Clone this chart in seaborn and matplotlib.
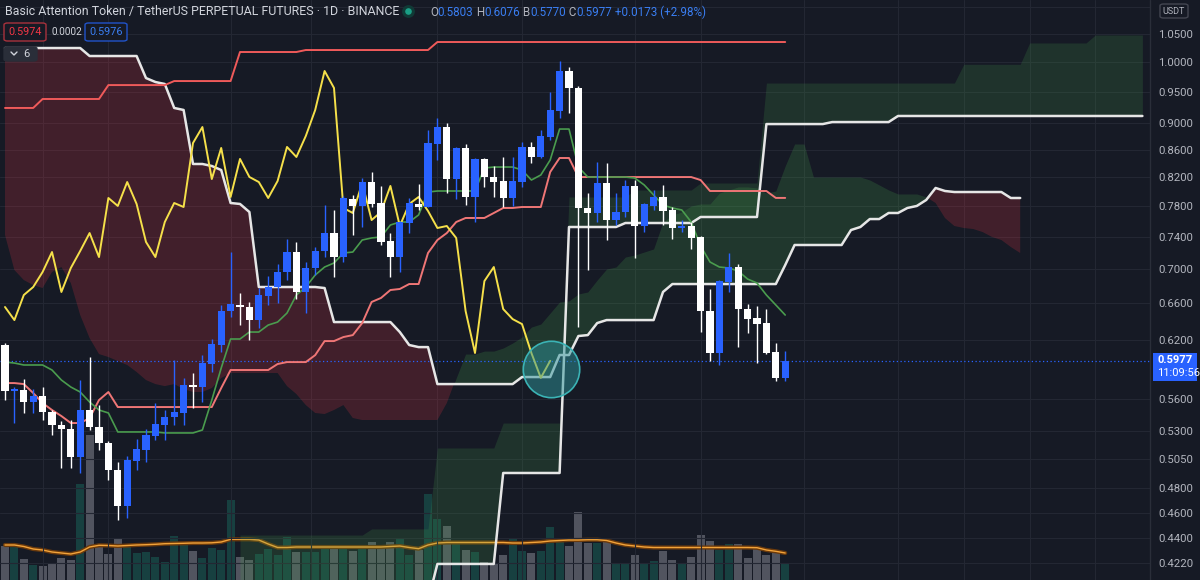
import numpy as np
import pandas as pd
import matplotlib
matplotlib.use("Agg")
import matplotlib.pyplot as plt
import seaborn as sns
from matplotlib.lines import Line2D
from matplotlib.patches import FancyBboxPatch, Rectangle
from matplotlib.ticker import NullLocator

# ---- daily candles (BATUSDT perp, 1D) ----
opens = [0.6142, 0.5673, 0.5683, 0.5567, 0.5625, 0.5472, 0.5351, 0.5314, 0.5063, 0.5491,
         0.5333, 0.5187, 0.4951, 0.4653, 0.5028, 0.5125, 0.5250, 0.5351, 0.5425, 0.5463,
         0.5723, 0.5713, 0.5944, 0.6142, 0.6513, 0.6581, 0.6558, 0.6412, 0.6684, 0.6788,
         0.6966, 0.7210, 0.6730, 0.7014, 0.7223, 0.7450, 0.7148, 0.7900, 0.7806, 0.8135,
         0.7846, 0.7348, 0.7148, 0.7580, 0.7833, 0.7792, 0.8686, 0.8944, 0.8177, 0.8627,
         0.7928, 0.8465, 0.8206, 0.8149, 0.7914, 0.8135, 0.8642, 0.8494, 0.8792, 0.9195,
         0.9851, 0.9567, 0.7779, 0.7712, 0.8121, 0.7619, 0.7725, 0.8080, 0.7541, 0.7806,
         0.7928, 0.7752, 0.7515, 0.7541, 0.7400, 0.6513, 0.6058, 0.6847, 0.7026, 0.6535,
         0.6434, 0.6379, 0.6068, 0.5803]
highs = [0.6163, 0.5713, 0.5792, 0.5693, 0.5713, 0.5491, 0.5388, 0.5397, 0.5782, 0.6016,
         0.5538, 0.5205, 0.5020, 0.5072, 0.5223, 0.5314, 0.5558, 0.5491, 0.5985, 0.5802,
         0.5853, 0.6037, 0.6206, 0.6581, 0.7210, 0.6718, 0.6615, 0.6776, 0.6918, 0.7063,
         0.7374, 0.7336, 0.7087, 0.7273, 0.7819, 0.7752, 0.7941, 0.7955, 0.8191, 0.8276,
         0.8080, 0.7450, 0.7606, 0.7914, 0.8107, 0.8898, 0.9085, 0.9006, 0.8641, 0.8686,
         0.8479, 0.8479, 0.8363, 0.8494, 0.8494, 0.8716, 0.8716, 0.8898, 0.9501, 1.0023,
         0.9919, 0.9600, 0.7982, 0.8421, 0.8406, 0.7982, 0.8163, 0.8163, 0.7846, 0.8024,
         0.8094, 0.7792, 0.7619, 0.7593, 0.7412, 0.6765, 0.6870, 0.7198, 0.7063, 0.6592,
         0.6569, 0.6535, 0.6163, 0.6076]
lows = [0.5586, 0.5369, 0.5463, 0.5463, 0.5397, 0.5260, 0.4968, 0.4968, 0.4926, 0.5305,
        0.5125, 0.4867, 0.4542, 0.4558, 0.4951, 0.5020, 0.5214, 0.5214, 0.5351, 0.5351,
        0.5510, 0.5567, 0.5863, 0.6068, 0.6446, 0.6358, 0.6195, 0.6325, 0.6581, 0.6604,
        0.6870, 0.6650, 0.6490, 0.6930, 0.7148, 0.6906, 0.7087, 0.7425, 0.7528, 0.7792,
        0.7298, 0.6906, 0.6966, 0.7450, 0.7752, 0.7792, 0.8450, 0.7982, 0.7900, 0.7819,
        0.7593, 0.8066, 0.7928, 0.7792, 0.7806, 0.8066, 0.8406, 0.8479, 0.8746, 0.9085,
        0.9163, 0.6336, 0.6990, 0.7593, 0.7361, 0.7554, 0.7659, 0.7136, 0.7463, 0.7752,
        0.7554, 0.7374, 0.7463, 0.7248, 0.6281, 0.5975, 0.5934, 0.6730, 0.6121, 0.6271,
        0.5954, 0.6048, 0.5772, 0.5770]
closes = [0.5673, 0.5693, 0.5567, 0.5625, 0.5472, 0.5351, 0.5314, 0.5063, 0.5491, 0.5333,
          0.5187, 0.4951, 0.4653, 0.5037, 0.5134, 0.5260, 0.5360, 0.5425, 0.5472, 0.5732,
          0.5713, 0.5954, 0.6152, 0.6513, 0.6592, 0.6558, 0.6412, 0.6695, 0.6788, 0.6966,
          0.7210, 0.6730, 0.7014, 0.7223, 0.7450, 0.7148, 0.7914, 0.7806, 0.8135, 0.7833,
          0.7336, 0.7148, 0.7593, 0.7846, 0.7792, 0.8701, 0.8944, 0.8177, 0.8627, 0.7928,
          0.8465, 0.8206, 0.8135, 0.7914, 0.8149, 0.8642, 0.8494, 0.8807, 0.9211, 0.9851,
          0.9567, 0.7779, 0.7712, 0.8121, 0.7619, 0.7725, 0.8080, 0.7541, 0.7833, 0.7928,
          0.7739, 0.7515, 0.7541, 0.7387, 0.6513, 0.6058, 0.6858, 0.7026, 0.6535, 0.6423,
          0.6368, 0.6058, 0.5804, 0.5977]
volumes = [34, 33, 21, 15, 14, 17, 22, 20, 96, 145, 36, 26, 42, 33, 27, 28, 23, 18, 44, 36,
           29, 22, 32, 30, 80, 23, 20, 26, 31, 25, 43, 28, 28, 28, 31, 35, 31, 29, 31, 38,
           34, 38, 41, 25, 30, 86, 61, 54, 37, 30, 28, 18, 17, 25, 41, 29, 27, 29, 53, 42,
           34, 68, 37, 37, 38, 17, 17, 25, 16, 19, 29, 20, 16, 23, 45, 39, 30, 36, 36, 22,
           33, 25, 27, 16]
volume_ma = [35, 35, 33.5, 31, 30, 28, 27, 26, 28, 33, 34.7, 34.5, 34, 34.5, 35, 35.3, 35.7,
             36.3, 36.5, 36.7, 37, 37, 37.2, 38, 40.7, 40.7, 40.7, 40, 36, 32.5, 32.5,
             33, 33, 33, 33, 33, 33, 33, 33, 33, 33, 33.5, 34, 32.5, 31.3, 35, 37,
             37.5, 37.5, 37.5, 37.5, 37.5, 37.5, 37.5, 37, 37, 37.5, 38, 39, 39.5, 40, 40,
             40.3, 40.3, 39.5, 37, 35, 34, 33, 32.5, 32.5, 32.5, 32.5, 32.5, 32.5, 32.5,
             32.5, 32.5, 32.5, 32.5, 32.3, 30, 28.7, 27]

# ---- ichimoku lines (conversion / base / leading spans, shift 25) ----
tenkan = [0.5964, 0.5954, 0.5934, 0.5934, 0.5934, 0.5883, 0.5782, 0.5713, 0.5664, 0.5567,
          0.5491, 0.5463, 0.5287, 0.5287, 0.5287, 0.5287, 0.5287, 0.5278, 0.5278, 0.5278,
          0.5278, 0.5305, 0.5586, 0.5903, 0.6206, 0.6206, 0.6281, 0.6281, 0.6357, 0.6390,
          0.6490, 0.6695, 0.6788, 0.6930, 0.7026, 0.7075, 0.7198, 0.7210, 0.7361, 0.7387,
          0.7400, 0.7554, 0.7593, 0.7593, 0.7686, 0.7996, 0.8010, 0.8010, 0.8010, 0.8010,
          0.8010, 0.8334, 0.8348, 0.8348, 0.8348, 0.8305, 0.8163, 0.8234, 0.8450, 0.8913,
          0.8913, 0.8348, 0.8205, 0.8205, 0.8205, 0.8205, 0.8205, 0.8191, 0.8094, 0.7956,
          0.7819, 0.7779, 0.7752, 0.7593, 0.7286, 0.7087, 0.7026, 0.7014, 0.6978, 0.6882,
          0.6835, 0.6695, 0.6581, 0.6468]
kijun = [0.5752, 0.5752, 0.5742, 0.5654, 0.5557, 0.5491, 0.5434, 0.5369, 0.5369, 0.5415,
         0.5586, 0.5664, 0.5519, 0.5519, 0.5519, 0.5519, 0.5519, 0.5519, 0.5519, 0.5519,
         0.5519, 0.5519, 0.5519, 0.5703, 0.5883, 0.5883, 0.5883, 0.5883, 0.5883, 0.5944,
         0.5964, 0.5964, 0.5964, 0.6036, 0.6184, 0.6184, 0.6227, 0.6248, 0.6379, 0.6615,
         0.6661, 0.6753, 0.6765, 0.6823, 0.6823, 0.7198, 0.7361, 0.7450, 0.7593, 0.7646,
         0.7646, 0.7646, 0.7712, 0.7779, 0.7779, 0.7792, 0.7792, 0.7792, 0.8277, 0.8479,
         0.8479, 0.8205, 0.8205, 0.8205, 0.8205, 0.8205, 0.8205, 0.8205, 0.8205, 0.8205,
         0.8205, 0.8205, 0.8205, 0.8205, 0.8163, 0.8010, 0.8010, 0.8010, 0.8010, 0.8010,
         0.8010, 0.8010, 0.7915, 0.7915]
span_a = [0.7425, 0.6990, 0.6870, 0.6811, 0.6776, 0.6966, 0.7026, 0.6835, 0.6468, 0.6216,
          0.6047, 0.6016, 0.5975, 0.5934, 0.5863, 0.5782, 0.5742, 0.5722, 0.5742, 0.5693,
          0.5664, 0.5664, 0.5703, 0.5802, 0.5853, 0.5853, 0.5853, 0.5853, 0.5853, 0.5853,
          0.5722, 0.5644, 0.5538, 0.5463, 0.5453, 0.5491, 0.5538, 0.5416, 0.5397, 0.5397,
          0.5397, 0.5397, 0.5397, 0.5397, 0.5397, 0.5397, 0.5397, 0.5557, 0.5802, 0.6047,
          0.6047, 0.6078, 0.6078, 0.6110, 0.6163, 0.6227, 0.6335, 0.6368, 0.6490, 0.6615,
          0.6627, 0.6707, 0.6730, 0.6870, 0.7002, 0.7026, 0.7148, 0.7173, 0.7210, 0.7248,
          0.7593, 0.7686, 0.7725, 0.7806, 0.7833, 0.7833, 0.7982, 0.8024, 0.8066, 0.8066,
          0.8052, 0.7982, 0.8010, 0.8363, 0.8686, 0.8686, 0.8205, 0.8205, 0.8205, 0.8205,
          0.8205, 0.8205, 0.8163, 0.8094, 0.8024, 0.7969, 0.7969, 0.7969, 0.7928, 0.7846,
          0.7645, 0.7541, 0.7515, 0.7502, 0.7463, 0.7400, 0.7361, 0.7273, 0.7198]
span_b = [1.0249, 1.0249, 1.0249, 1.0249, 1.0249, 1.0249, 1.0249, 1.0249, 1.0249, 1.0109,
          1.0109, 1.0109, 1.0109, 1.0109, 1.0109, 0.9732, 0.9666, 0.9633, 0.9243, 0.9211,
          0.8392, 0.8392, 0.8363, 0.8305, 0.7846, 0.7833, 0.7725, 0.6788, 0.6788, 0.6788,
          0.6788, 0.6788, 0.6788, 0.6788, 0.6776, 0.6390, 0.6390, 0.6390, 0.6390, 0.6390,
          0.6390, 0.6390, 0.6281, 0.6142, 0.6120, 0.6120, 0.5742, 0.5742, 0.5742, 0.5742,
          0.5742, 0.5742, 0.5742, 0.5742, 0.5742, 0.5812, 0.5812, 0.5812, 0.5812, 0.6037,
          0.6037, 0.6238, 0.6248, 0.6379, 0.6412, 0.6412, 0.6412, 0.6412, 0.6412, 0.6412,
          0.6730, 0.6823, 0.6823, 0.6823, 0.6823, 0.6823, 0.6823, 0.6823, 0.6823, 0.6823,
          0.6823, 0.6823, 0.6823, 0.7050, 0.7298, 0.7298, 0.7298, 0.7298, 0.7298, 0.7298,
          0.7489, 0.7528, 0.7632, 0.7632, 0.7712, 0.7712, 0.7779, 0.7806, 0.7887, 0.8052,
          0.8010, 0.7996, 0.7996, 0.7996, 0.7996, 0.7996, 0.7996, 0.7914, 0.7914]
upper_band = ([0.9243] * 4 + [0.9387] * 7 + [0.9615] * 7 + [0.9682] * 7 +
              [1.0179] * 7 + [1.0214] * 14 + [1.0356] * 38)

# second (slow) cloud, starts at bar 25 and runs past the right edge
slow_start = 25
slow_top = ([0.4426] * 14 + [0.4473] * 7 + [0.5143] * 7 + [0.5369] * 7 + [0.7928] * 7 +
            [0.8024] * 7 + [0.8121] * 7 + [0.9649] * 21 + [0.9965] * 7 + [1.0339] * 7 +
            [1.0482] * 6)
slow_base = ([0.395] * 21 + [0.4211] * 7 + [0.4926] * 7 + [0.7528] * 6 + [0.7580] * 8 +
             [0.7659] * 7 + [0.8990] * 7 + [0.9021] * 7 + [0.9116] * 27)

lag = 25
price_ticks = [1.05, 1.00, 0.95, 0.90, 0.86, 0.82, 0.78, 0.74, 0.70, 0.66, 0.62,
               0.56, 0.53, 0.505, 0.48, 0.46, 0.44, 0.422]
grid_bars = [4, 11, 24, 32.5, 46, 55, 67, 74, 85, 95, 102, 109, 116]
last_price = 0.5977
hl_bar, hl_price = 58.1, 0.589   # highlighted circle

# ---- style ----
BG = '#161a25'
UP = '#2962ff'
DOWN = '#ffffff'
sns.set_theme(style='dark', rc={'axes.facecolor': BG, 'figure.facecolor': BG,
                                'savefig.facecolor': BG})
plt.rcParams['font.family'] = ['Roboto', 'DejaVu Sans']

W, H = 1200, 580
fig = plt.figure(figsize=(W / 100, H / 100), dpi=100)
rect = [0, 0, 1150 / W, 1]
ax_vol = fig.add_axes(rect)
ax = fig.add_axes(rect)
ax.patch.set_visible(False)

n = len(closes)
idx = np.arange(n)
o, h, l, c = map(np.array, (opens, highs, lows, closes))
up = c >= o

# volume (behind everything)
vol_df = pd.DataFrame({'bar': idx, 'vol': volumes, 'dir': np.where(up, 'up', 'down')})
sns.barplot(data=vol_df, x='bar', y='vol', hue='dir', palette={'up': '#174040', 'down': '#51545f'},
            native_scale=True, dodge=False, width=0.85, errorbar=None, saturation=1,
            legend=False, linewidth=0, edgecolor='none', ax=ax_vol)
sns.lineplot(x=idx, y=volume_ma, ax=ax_vol, color='#6b3a0c', lw=3.0)
sns.lineplot(x=idx, y=volume_ma, ax=ax_vol, color='#f2a33a', lw=1.0)
ax_vol.set_ylim(0, H)

ax.set_yscale('log')

# clouds
cx = np.arange(len(span_a))
sa, sb = np.array(span_a), np.array(span_b)
ax.fill_between(cx, sa, sb, where=sa >= sb, interpolate=True, color='#4caf50', alpha=0.2, lw=0, zorder=1)
ax.fill_between(cx, sa, sb, where=sa < sb, interpolate=True, color='#f23645', alpha=0.2, lw=0, zorder=1)
sx = np.arange(slow_start, slow_start + len(slow_top))
ax.fill_between(sx, slow_base, slow_top, color='#4caf50', alpha=0.17, lw=0, zorder=1)

# grid
for g in grid_bars:
    ax.axvline(g, color='#232733', lw=0.8, zorder=0)
for t in price_ticks + [1.10]:
    ax.axhline(t, color='#232733', lw=0.8, zorder=0)

# indicator lines
sns.lineplot(x=cx, y=span_b, ax=ax, color='#e6e6e6', lw=1.8, zorder=3)
sns.lineplot(x=sx, y=slow_base, ax=ax, color='#e6e6e6', lw=1.8, zorder=3)
sns.lineplot(x=idx, y=upper_band, ax=ax, color='#ef5a5a', lw=1.4, zorder=3)
sns.lineplot(x=idx, y=kijun, ax=ax, color='#ef7676', lw=1.4, zorder=3)
sns.lineplot(x=idx, y=tenkan, ax=ax, color='#4a9c4e', lw=1.2, zorder=3)
sns.lineplot(x=np.arange(n - lag), y=closes[lag:], ax=ax, color='#f5e04a', lw=1.4, zorder=3)

ax.axhline(last_price, color=UP, lw=0.9, ls=(0, (1, 2)), zorder=2)

# candles
cols = np.where(up, UP, DOWN)
body_lo = np.minimum(o, c)
body_h = np.maximum(np.abs(c - o), body_lo * 0.003)
ax.vlines(idx, l, h, colors=cols, lw=1.0, zorder=4)
ax.bar(idx, body_h, bottom=body_lo, width=0.76, color=cols, lw=0, zorder=5)

ax.scatter([hl_bar], [hl_price], s=1650, facecolor=(0.18, 0.58, 0.6, 0.5),
           edgecolor='#3bb3b5', lw=1.2, zorder=6)

# limits / axes
xl = (-5 / 9.4, 1145 / 9.4)
ax.set_xlim(xl)
ax_vol.set_xlim(xl)
ax.set_ylim(0.4096, 1.1134)
ax.yaxis.tick_right()
ax.yaxis.set_minor_locator(NullLocator())
ax.set_yticks(price_ticks, labels=[f'{t:.4f}' for t in price_ticks])
ax.tick_params(axis='y', length=0, pad=6, labelsize=8.2, labelcolor='#b2b5be')
ax.set_xticks([])
ax_vol.set_xticks([])
ax_vol.set_yticks([])
for a in (ax, ax_vol):
    a.set_xlabel('')
    a.set_ylabel('')
    for s in a.spines.values():
        s.set_visible(False)

fig.add_artist(Line2D([1150 / W] * 2, [0, 1], color='#2a2e39', lw=1))


def px(x, y):
    return x / W, 1 - y / H


def chain(x, y, pieces, size):
    r = fig.canvas.get_renderer()
    for txt, col in pieces:
        t = fig.text(*px(x, y), txt, color=col, fontsize=size, va='center', ha='left')
        x += t.get_window_extent(renderer=r).width
    return x


# header
chain(5, 11, [('Basic Attention Token / TetherUS PERPETUAL FUTURES · 1D · BINANCE', '#d1d4dc')], 8.9)
fig.add_artist(Line2D([408 / W], [1 - 11 / H], marker='o', ms=7, color='#1a9f86',
                      mec='#103a36', mew=2.2))
VB = '#3a7ef2'
GR = '#b2b5be'
chain(430, 12, [('O', GR), ('0.5803', VB), (' H', GR), ('0.6076', VB), (' B', GR), ('0.5770', VB),
                (' C', GR), ('0.5977', VB), (' +0.0173 (+2.98%)', VB)], 8.4)


def box(x0, y0, x1, y1, ec, fc):
    x, y = px(x0, y1)
    fig.add_artist(FancyBboxPatch((x, y), (x1 - x0) / W, (y1 - y0) / H,
                                  boxstyle='round,pad=0,rounding_size=0.003',
                                  transform=fig.transFigure, ec=ec, fc=fc, lw=1))


box(4, 23, 46, 41, '#a8323c', BG)
fig.text(*px(25, 32), '0.5974', color='#f23645', fontsize=7.8, ha='center', va='center')
fig.text(*px(52, 32), '0.0002', color='#d1d4dc', fontsize=7.2, ha='left', va='center')
box(85, 23, 127, 41, '#2153c9', BG)
fig.text(*px(106, 32), '0.5976', color=VB, fontsize=7.8, ha='center', va='center')
box(4, 47, 37, 61, '#2a2e39', '#2a2e39')
fig.add_artist(Line2D([11 / W, 14 / W, 17 / W], [1 - 52 / H, 1 - 55 / H, 1 - 52 / H],
                      color='#d1d4dc', lw=1))
fig.text(*px(23, 54), '6', color='#d1d4dc', fontsize=8, ha='left', va='center')

# top-right unit box
box(1160, 4, 1188, 18, '#434651', BG)
fig.text(*px(1174, 11), 'USDT', color='#b2b5be', fontsize=6.5, ha='center', va='center')

# last price label
fig.add_artist(Rectangle(px(1153, 381), 44 / W, 28 / H, transform=fig.transFigure,
                         fc=UP, ec='none'))
fig.text(*px(1157, 360), '0.5977', color='white', fontsize=8, ha='left', va='center', weight='bold')
fig.text(*px(1157, 373), '11:09:56', color='white', fontsize=8, ha='left', va='center')

fig.savefig('out.png', dpi=100, facecolor=BG)
